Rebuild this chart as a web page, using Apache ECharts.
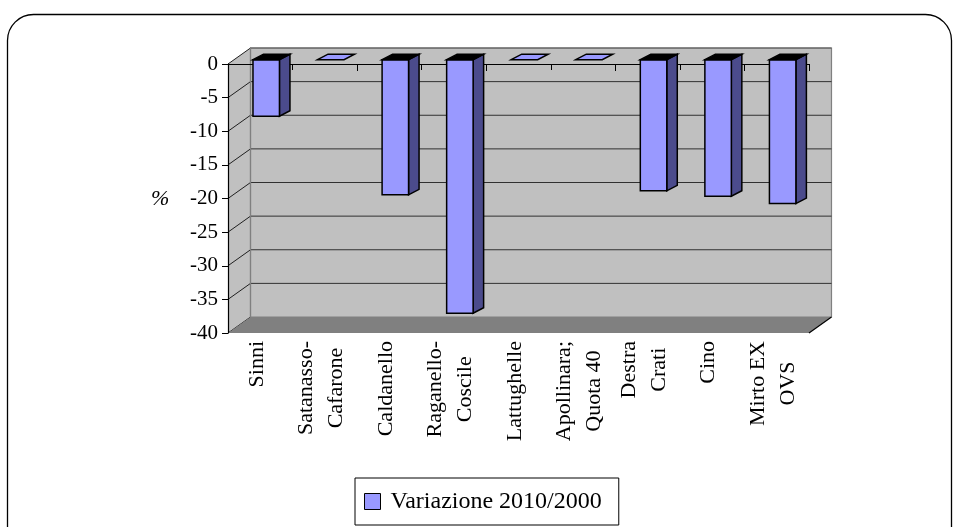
<!DOCTYPE html>
<html>
<head>
<meta charset="utf-8">
<script src="https://cdn.jsdelivr.net/npm/echarts@6/dist/echarts.min.js"></script>
<style>
  html, body { margin: 0; padding: 0; background: #ffffff; }
  #chart { width: 960px; height: 527px; }
</style>
</head>
<body>
<div id="chart"></div>
<script>
// Reservoir names (category axis) and percentage change 2010 vs 2000
const categories = [
  'Sinni',
  'Satanasso-\nCafarone',
  'Caldanello',
  'Raganello-\nCoscile',
  'Lattughelle',
  'Apollinara;\nQuota 40',
  'Destra\nCrati',
  'Cino',
  'Mirto EX\nOVS'
];
const variazione = [-8.4, 0, -20.1, -37.7, 0, 0, -19.5, -20.3, -21.4];
const seriesName = 'Variazione 2010/2000';

// Value axis ticks
const valueMin = -40;
const valueMax = 0;
const valueStep = 5;
const gridTicks = [0, -5, -10, -15, -20, -25, -30, -35, -40];

const FONT = "'Liberation Serif', 'Times New Roman', serif";

// Oblique projection used for the 3-D box (walls/floor) and the columns
const wallDepth = [22.5, -16];   // front plane -> back wall
const barPlane = [0, -4.3];      // front face of a column sits slightly inside the box
const barDepth = [10.5, -5.5];   // thickness of each column
const barFaceLeft = 0.113;       // face left edge, fraction of band left of category centre
const barFaceWidth = 0.41;       // face width, fraction of band

const chart = echarts.init(document.getElementById('chart'), null, { renderer: 'canvas' });

function poly(points, fill, stroke, lw) {
  return {
    type: 'polygon',
    shape: { points: points },
    style: { fill: fill, stroke: stroke || null, lineWidth: lw || 0 }
  };
}
function seg(a, b, stroke, lw) {
  return {
    type: 'line',
    shape: { x1: a[0], y1: a[1], x2: b[0], y2: b[1] },
    style: { stroke: stroke, lineWidth: lw }
  };
}

// Back wall, side wall, floor and gridlines of the 3-D box
function renderBox(params, api) {
  const band = api.size([1, 0])[0];
  const n = categories.length;
  const x0 = api.coord([0, valueMax])[0] - band / 2;
  const x1 = api.coord([n - 1, valueMax])[0] + band / 2;
  const yTop = api.coord([0, valueMax])[1];
  const yBot = api.coord([0, valueMin])[1];
  const dx = wallDepth[0], dy = wallDepth[1];
  const children = [];
  // side wall
  children.push(poly([[x0, yTop], [x0 + dx, yTop + dy], [x0 + dx, yBot + dy], [x0, yBot]], '#c0c0c0'));
  // back wall
  children.push(poly([[x0 + dx, yTop + dy], [x1 + dx, yTop + dy], [x1 + dx, yBot + dy], [x0 + dx, yBot + dy]], '#c0c0c0', '#808080', 1.2));
  // gridlines across the back wall and down the side wall
  gridTicks.forEach(function (t) {
    const y = api.coord([0, t])[1];
    if (t !== valueMin) {
      children.push(seg([x0 + dx, y + dy], [x1 + dx, y + dy], t === valueMax ? '#505050' : '#303030', 1));
    }
    children.push(seg([x0, y], [x0 + dx, y + dy], '#202020', 1));
  });
  // floor
  children.push(poly([[x0, yBot], [x0 + dx, yBot + dy], [x1 + dx, yBot + dy], [x1, yBot]], '#808080'));
  children.push(seg([x1, yBot], [x1 + dx, yBot + dy], '#000', 1.2));
  children.push(seg([x0 + dx, yTop + dy], [x0 + dx, yBot + dy], '#808080', 1.2));
  return { type: 'group', children: children };
}

// One 3-D column per category
function renderColumn(params, api) {
  const i = api.value(0);
  const v = api.value(1);
  const band = api.size([1, 0])[0];
  const p0 = api.coord([i, 0]);
  const p1 = api.coord([i, v]);
  const xl = p0[0] - band * barFaceLeft + barPlane[0];
  const xr = xl + band * barFaceWidth;
  const yt = p0[1] + barPlane[1];
  const yb = p1[1] + barPlane[1];
  const bx = barDepth[0], by = barDepth[1];
  const lw = 1.5;
  const children = [];
  if (Math.abs(yb - yt) < 0.5) {
    children.push(poly([[xl, yt], [xl + bx, yt + by], [xr + bx, yt + by], [xr, yt]], '#9999ff', '#000', lw));
  } else {
    children.push(poly([[xr, yt], [xr + bx, yt + by], [xr + bx, yb + by], [xr, yb]], '#4b4b8c', '#000', lw));
    children.push(poly([[xl, yt], [xr, yt], [xr, yb], [xl, yb]], '#9999ff', '#000', lw));
    children.push(poly([[xl, yt], [xl + bx, yt + by], [xr + bx, yt + by], [xr, yt]], '#000000', '#000', lw));
  }
  return { type: 'group', children: children };
}

const labelRich = { c: { align: 'center', fontFamily: FONT, fontSize: 22, color: '#000', lineHeight: 30 } };

const option = {
  animation: false,
  backgroundColor: '#ffffff',
  grid: { left: 228, right: 151, top: 64, bottom: 194, containLabel: false },
  xAxis: [
    {
      type: 'category',
      data: categories,
      position: 'bottom',
      z: 5,
      axisLine: { show: true, lineStyle: { color: '#000', width: 1.2 } },
      axisTick: { show: true, inside: false, length: 6, lineStyle: { color: '#000', width: 1 } },
      axisLabel: {
        interval: 0,
        rotate: 90,
        margin: 8,
        color: '#000',
        fontFamily: FONT,
        fontSize: 22,
        lineHeight: 30,
        padding: [0, 0, 7, 0],
        rich: labelRich,
        formatter: function (val) {
          return val.split('\n').map(function (s) { return '{c|' + s + '}'; }).join('\n');
        }
      },
      splitLine: { show: false }
    },
    {
      type: 'category',
      data: categories,
      position: 'top',
      z: 3,
      axisLine: { show: true, onZero: false, lineStyle: { color: '#000', width: 1.2 } },
      axisTick: { show: true, inside: true, length: 7, lineStyle: { color: '#000', width: 1 } },
      axisLabel: { show: false },
      splitLine: { show: false }
    }
  ],
  yAxis: {
    type: 'value',
    min: valueMin,
    max: valueMax,
    interval: valueStep,
    z: 5,
    axisLine: { show: true, lineStyle: { color: '#000', width: 1.2 } },
    axisTick: { show: true, inside: false, length: 6, lineStyle: { color: '#000', width: 1 } },
    axisLabel: { margin: 10, color: '#000', fontFamily: FONT, fontSize: 21 },
    splitLine: { show: false }
  },
  legend: {
    data: [{ name: seriesName, icon: 'rect' }],
    left: 355,
    top: 478,
    itemWidth: 16,
    itemHeight: 16,
    padding: [11, 17, 11, 9],
    borderColor: '#000',
    borderWidth: 1,
    backgroundColor: '#ffffff',
    selectedMode: false,
    itemStyle: { color: '#9999ff', borderColor: '#000', borderWidth: 1 },
    textStyle: { color: '#000', fontFamily: FONT, fontSize: 24, lineHeight: 25, padding: [0, 0, 0, 5] }
  },
  graphic: [
    {
      type: 'rect',
      z: 100,
      silent: true,
      shape: { x: 7.5, y: 14.5, width: 944, height: 560, r: 26 },
      style: { fill: null, stroke: '#000', lineWidth: 1.3 }
    },
    {
      type: 'text',
      left: 151,
      top: 188,
      silent: true,
      style: { text: '%', fill: '#000', font: "italic 22px 'Liberation Serif'" }
    }
  ],
  series: [
    {
      type: 'custom',
      name: 'box',
      z: 1,
      silent: true,
      xAxisIndex: 0,
      yAxisIndex: 0,
      renderItem: renderBox,
      data: [[0, 0]]
    },
    {
      type: 'custom',
      name: seriesName,
      z: 10,
      xAxisIndex: 0,
      yAxisIndex: 0,
      itemStyle: { color: '#9999ff' },
      renderItem: renderColumn,
      data: categories.map(function (c, i) { return [i, variazione[i]]; })
    }
  ]
};

chart.setOption(option);
</script>
</body>
</html>
